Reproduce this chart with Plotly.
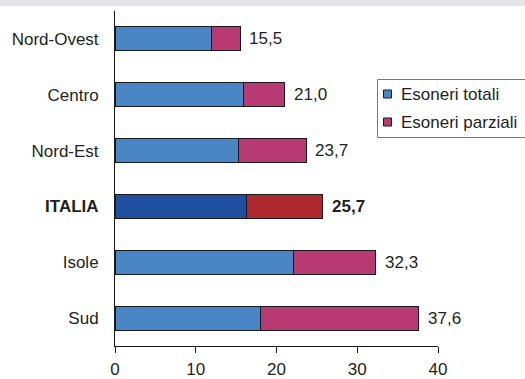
import plotly.graph_objects as go

# Regional data (percentages)
regions = ["Nord-Ovest", "Centro", "Nord-Est", "ITALIA", "Isole", "Sud"]
esoneri_totali = [11.9, 15.9, 15.3, 16.3, 22.1, 18.0]
esoneri_parziali = [3.6, 5.1, 8.4, 9.4, 10.2, 19.6]
totale = [15.5, 21.0, 23.7, 25.7, 32.3, 37.6]
totale_labels = ["15,5", "21,0", "23,7", "25,7", "32,3", "37,6"]
x_ticks = [0, 10, 20, 30, 40]
legend_names = ["Esoneri totali", "Esoneri parziali"]

BLUE = "#4a86c6"
MAGENTA = "#b83a72"
BLUE_IT = "#1f4f9f"
RED_IT = "#b0282f"
TEXT = "#231f20"
EDGE = "#1a1a1a"
FONT = "Liberation Sans, Arial, sans-serif"
FS = 17

W, H = 525, 379
ML, MR, MT, MB = 115, 87, 11, 33
PW, PH = W - ML - MR, H - MT - MB


def px_x(px):
    """Pixel column -> paper x."""
    return (px - ML) / PW


def px_y(py):
    """Pixel row -> paper y."""
    return (H - MB - py) / PH


is_italy = [r == "ITALIA" for r in regions]
col_tot = [BLUE_IT if it else BLUE for it in is_italy]
col_par = [RED_IT if it else MAGENTA for it in is_italy]
ticktext = [f"<b>{r}</b>" if it else r for r, it in zip(regions, is_italy)]

fig = go.Figure()
fig.add_trace(go.Bar(
    y=regions, x=esoneri_totali, orientation="h", name=legend_names[0],
    marker=dict(color=col_tot, line=dict(color=EDGE, width=1)),
    showlegend=False, hoverinfo="x+y",
))
fig.add_trace(go.Bar(
    y=regions, x=esoneri_parziali, orientation="h", name=legend_names[1],
    marker=dict(color=col_par, line=dict(color=EDGE, width=1)),
    showlegend=False, hoverinfo="x+y",
))

# Total value labels at the end of each bar
for r, t, lab, it in zip(regions, totale, totale_labels, is_italy):
    fig.add_annotation(
        x=t, y=r, text=f"<b>{lab}</b>" if it else lab,
        xanchor="left", yanchor="middle", xshift=7, showarrow=False,
        font=dict(family=FONT, size=FS, color=TEXT),
    )

shapes = []
# Thin grey band across the top
shapes.append(dict(
    type="rect", xref="paper", yref="paper",
    x0=px_x(-5), x1=px_x(W + 5), y0=px_y(6), y1=px_y(-5),
    fillcolor="#e6e6e8", line=dict(width=0), layer="below",
))

# Legend box with square swatches
shapes.append(dict(
    type="rect", xref="paper", yref="paper",
    x0=px_x(377.5), x1=px_x(W + 5), y0=px_y(137.5), y1=px_y(79.5),
    fillcolor="white", line=dict(color="#7a7a7a", width=1),
))
for i, (name, color) in enumerate(zip(legend_names, [BLUE, MAGENTA])):
    cy = 94 + 28 * i
    shapes.append(dict(
        type="rect", xref="paper", yref="paper",
        x0=px_x(383.5), x1=px_x(391.5), y0=px_y(cy + 4), y1=px_y(cy - 4),
        fillcolor=color, line=dict(color=EDGE, width=1),
    ))
    fig.add_annotation(
        xref="paper", yref="paper", x=px_x(399), y=px_y(cy),
        text=name, xanchor="left", yanchor="middle", showarrow=False,
        font=dict(family=FONT, size=FS, color=TEXT),
    )

fig.update_layout(
    width=W, height=H,
    margin=dict(l=ML, r=MR, t=MT, b=MB, autoexpand=False),
    paper_bgcolor="white", plot_bgcolor="white",
    barmode="stack", bargap=0.57,
    font=dict(family=FONT, size=FS, color=TEXT),
    showlegend=False,
    shapes=shapes,
    xaxis=dict(
        range=[0, 40], tickvals=x_ticks, ticktext=[str(v) for v in x_ticks],
        showgrid=False, zeroline=False, showline=True,
        linecolor=EDGE, linewidth=1,
        ticks="outside", ticklen=6, tickcolor=EDGE,
        ticklabelstandoff=2,
    ),
    yaxis=dict(
        categoryorder="array", categoryarray=regions[::-1],
        tickvals=regions, ticktext=ticktext,
        range=[-0.5, 5.5], autorange=False,
        showgrid=False, zeroline=False, showline=True,
        linecolor=EDGE, linewidth=1,
        ticks="outside", ticklen=12, tickcolor="rgba(0,0,0,0)",
    ),
)

fig.write_html("out.html")
